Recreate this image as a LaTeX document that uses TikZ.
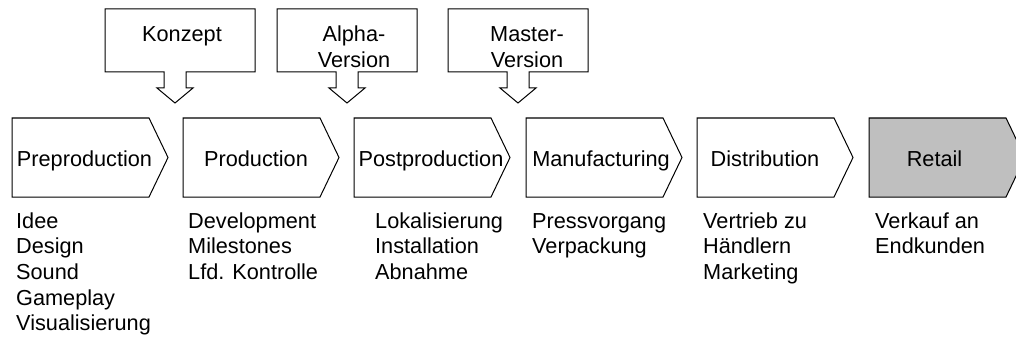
\documentclass[tikz,border=0pt]{standalone}
\usepackage{fontspec}
\setmainfont{Liberation Sans}
\begin{document}
\begin{tikzpicture}[x=1pt,y=-1pt,
  lw/.style={line width=1pt, line join=miter},
  txt/.style={inner sep=0pt, font=\fontsize{21.7}{25.7}\selectfont},
  lst/.style={txt, align=left, anchor=base west},
  lbl/.style={txt, anchor=base}]
\useasboundingbox (0,0) rectangle (1016,342);
\clip (0,0) rectangle (1016,342);
% chevrons
\foreach \L/\nm/\fc in {12/pre/white,183/pro/white,354/post/white,526/man/white,697/dis/white,869/ret/{black!25}}{
  \draw[lw, fill=\fc] (\L,118) -- (\L+137,118) -- (\L+156,157.5) -- (\L+137,197) -- (\L,197) -- cycle;
}
\node[lbl] (preT)  at (84.5,166) {Preproduction};
\node[lbl] (proT)  at (256,166) {Production};
\node[lbl] (postT) at (431,166) {Postproduction};
\node[lbl] (manT)  at (601,166) {Manufacturing};
\node[lbl] (disT)  at (765,166) {Distribution};
\node[lbl] (retT)  at (934.5,166) {Retail};
% callouts
\foreach \bl/\br/\c in {105/255/175, 277/417/347, 448/588/518}{
  \draw[lw, fill=white] (\bl,9) -- (\br,9) -- (\br,72) -- (\c+11,72) -- (\c+11,88) -- (\c+18,88)
     -- (\c,103) -- (\c-18,88) -- (\c-11,88) -- (\c-11,72) -- (\bl,72) -- cycle;
}
\node[lbl] (konz) at (182,42) {Konzept};
\node[txt, align=center, anchor=base] (alpha) at (354,67.7) {Alpha-\\Version};
\node[txt, align=center, anchor=base] (master) at (527,67.7) {Master-\\Version};
% lists (base anchor = baseline of last line)
\node[lst] (l1) at (16,330.8) {Idee\\Design\\Sound\\Gameplay\\Visualisierung};
\node[lst] (l2) at (188,279.4) {Development\\Milestones\\Lfd. Kontrolle};
\node[lst] (l3) at (375,279.4) {Lokalisierung\\Installation\\Abnahme};
\node[lst] (l4) at (532,253.7) {Pressvorgang\\Verpackung};
\node[lst] (l5) at (703,279.4) {Vertrieb zu\\Händlern\\Marketing};
\node[lst] (l6) at (875,253.7) {Verkauf an\\Endkunden};
\end{tikzpicture}
\end{document}
